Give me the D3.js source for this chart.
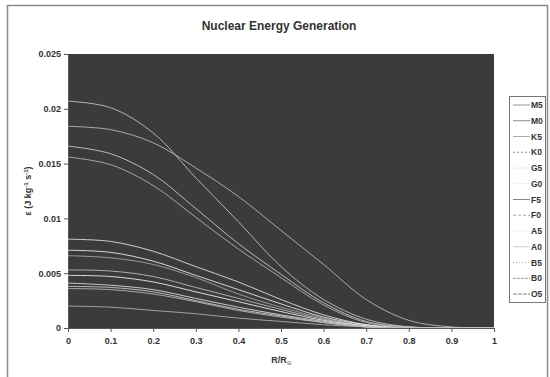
<!DOCTYPE html>
<html>
<head>
<meta charset="utf-8">
<script src="https://cdn.jsdelivr.net/npm/d3@7"></script>
<style>
  body { margin: 0; background: #fff; }
  text { font-family: "Liberation Sans", Arial, sans-serif; font-weight: bold; fill: #333; }
</style>
</head>
<body>
<div id="chart"></div>
<script>
// radius grid (R/R) shared by all series
var radius = [0, 0.1, 0.2, 0.3, 0.4, 0.5, 0.6, 0.7, 0.8, 0.9, 1.0];

var seriesNames = ["M5", "M0", "K5", "K0", "G5", "G0", "F5", "F0", "A5", "A0", "B5", "B0", "O5"];

// energy generation (J kg^-1 s^-1)
var m5 = [0.0207, 0.0201, 0.0178, 0.0137, 0.0097, 0.0056, 0.0026, 0.0008, 0.0001, 0, 0];
var m0 = [0.0184, 0.0181, 0.0169, 0.0146, 0.0120, 0.0089, 0.0058, 0.0026, 0.0007, 0.0001, 0];
var k5 = [0.0166, 0.0159, 0.0140, 0.0109, 0.0077, 0.0049, 0.0023, 0.0006, 0.0001, 0, 0];
var k0 = [0.0156, 0.0149, 0.0130, 0.0101, 0.0072, 0.0046, 0.0021, 0.0005, 0.0001, 0, 0];
var g5 = [0.0081, 0.0079, 0.0070, 0.0056, 0.0042, 0.0026, 0.0012, 0.0003, 0, 0, 0];
var g0 = [0.0071, 0.0069, 0.0061, 0.0048, 0.0035, 0.0022, 0.0010, 0.0003, 0, 0, 0];
var f5 = [0.0066, 0.0064, 0.0058, 0.0046, 0.0031, 0.0019, 0.0009, 0.0002, 0, 0, 0];
var f0 = [0.0053, 0.0052, 0.0047, 0.0037, 0.0027, 0.0017, 0.0008, 0.0002, 0, 0, 0];
var a5 = [0.0048, 0.0047, 0.0042, 0.0033, 0.0024, 0.0015, 0.0007, 0.0002, 0, 0, 0];
var a0 = [0.0041, 0.0039, 0.0035, 0.0027, 0.0019, 0.0012, 0.0006, 0.0001, 0, 0, 0];
var b5 = [0.0038, 0.0037, 0.0033, 0.0025, 0.0017, 0.0011, 0.0005, 0.0001, 0, 0, 0];
var b0 = [0.0036, 0.0035, 0.0031, 0.0024, 0.0016, 0.0010, 0.0005, 0.0001, 0, 0, 0];
var o5 = [0.0020, 0.0019, 0.0016, 0.0013, 0.0009, 0.0006, 0.0003, 0.0001, 0, 0, 0];

var seriesValues = [m5, m0, k5, k0, g5, g0, f5, f0, a5, a0, b5, b0, o5];

var xTicks = [0, 0.1, 0.2, 0.3, 0.4, 0.5, 0.6, 0.7, 0.8, 0.9, 1];
var yTicks = [0, 0.005, 0.01, 0.015, 0.02, 0.025];

// line looks (gray shades, some dashed) per series
var lineColors = ["#c8c8c8", "#bdbdbd", "#d0d0d0", "#b8b8b8", "#e6e6e6", "#f0f0f0", "#a8a8a8",
                  "#c0c0c0", "#f4f4f4", "#e0e0e0", "#cfcfcf", "#bcbcbc", "#b4b4b4"];
var lineDash = [null, null, null, "2,2", null, null, null, "3,2", null, null, "1,2", "3,1", "4,1"];

var W = 550, H = 377;
var plot = {left: 68, right: 494, top: 54, bottom: 328};

var svg = d3.select("#chart")
            .append("svg")
            .attr("width", W)
            .attr("height", H);

// outer chart frame
svg.append("rect")
   .attr("x", 7.5)
   .attr("y", 5.5)
   .attr("width", 540)
   .attr("height", 385)
   .attr("fill", "#fff")
   .attr("stroke", "#8a8a8a")
   .attr("stroke-width", 1.5);

var xScale = d3.scaleLinear()
               .domain([0, 1])
               .range([plot.left, plot.right]);

var yScale = d3.scaleLinear()
               .domain([0, 0.025])
               .range([plot.bottom, plot.top]);

svg.append("clipPath")
   .attr("id", "clip")
   .append("rect")
   .attr("x", plot.left)
   .attr("y", plot.top)
   .attr("width", plot.right - plot.left)
   .attr("height", plot.bottom - plot.top);

// plot background
svg.append("rect")
   .attr("x", plot.left)
   .attr("y", plot.top)
   .attr("width", plot.right - plot.left)
   .attr("height", plot.bottom - plot.top)
   .attr("fill", "#3b3b3b");

//creates the axes
var xAxis = d3.axisBottom(xScale)
              .tickValues(xTicks)
              .tickSize(4)
              .tickFormat(function(d) { return d3.format("~g")(d); });

var yAxis = d3.axisLeft(yScale)
              .tickValues(yTicks)
              .tickSize(4)
              .tickFormat(function(d) { return d3.format("~g")(d); });

var gx = svg.append("g")
            .attr("transform", "translate(0," + plot.bottom + ")")
            .call(xAxis);

var gy = svg.append("g")
            .attr("transform", "translate(" + plot.left + ",0)")
            .call(yAxis);

[gx, gy].forEach(function(g) {
  g.select(".domain").attr("stroke", "#555");
  g.selectAll(".tick line").attr("stroke", "#555");
  g.selectAll(".tick text")
   .attr("fill", "#444")
   .style("font-size", "9px")
   .style("font-family", "'Liberation Sans', Arial, sans-serif")
   .style("font-weight", "bold");
});
gx.selectAll(".tick text").attr("dy", "1.0em");

// lines
var line = d3.line()
             .x(function(d) { return xScale(d[0]); })
             .y(function(d) { return yScale(d[1]); })
             .curve(d3.curveCatmullRom.alpha(0.5));

var lines = svg.append("g").attr("clip-path", "url(#clip)");

seriesValues.forEach(function(vals, i) {
  var pts = radius.map(function(r, j) { return [r, vals[j]]; });
  lines.append("path")
     .datum(pts)
     .attr("d", line)
     .attr("fill", "none")
     .attr("stroke", lineColors[i])
     .attr("stroke-width", 1)
     .attr("stroke-opacity", 0.85);
});

// title
svg.append("text")
   .attr("x", 279)
   .attr("y", 30)
   .attr("text-anchor", "middle")
   .style("font-size", "12px")
   .text("Nuclear Energy Generation");

// axis labels
var xl = svg.append("text")
   .attr("x", (plot.left + plot.right) / 2)
   .attr("y", 363)
   .attr("text-anchor", "middle")
   .style("font-size", "9px")
   .attr("fill", "#555")
   .text("R/R");
xl.append("tspan")
  .attr("dy", 2)
  .style("font-size", "5px")
  .text("☉");

var yl = svg.append("text")
   .attr("transform", "translate(31," + ((plot.top + plot.bottom) / 2) + ") rotate(-90)")
   .attr("text-anchor", "middle")
   .style("font-size", "9px")
   .attr("fill", "#444");
yl.append("tspan").text("ε (J kg");
yl.append("tspan").attr("dy", -3).style("font-size", "6px").text("-1");
yl.append("tspan").attr("dy", 3).text(" s");
yl.append("tspan").attr("dy", -3).style("font-size", "6px").text("-1");
yl.append("tspan").attr("dy", 3).text(")");

// legend
var legend = svg.append("g");
legend.append("rect")
      .attr("x", 509.5)
      .attr("y", 96.5)
      .attr("width", 36)
      .attr("height", 206)
      .attr("fill", "#fff")
      .attr("stroke", "#777")
      .attr("stroke-width", 1);

var legendColors = ["#999", "#888", "#aaa", "#999", "#eee", "#eee", "#888",
                    "#aaa", "#f2f2f2", "#ccc", "#aaa", "#999", "#888"];

seriesNames.forEach(function(name, i) {
  var y = 105 + i * 15.75;
  legend.append("line")
        .attr("x1", 513)
        .attr("x2", 530)
        .attr("y1", y)
        .attr("y2", y)
        .attr("stroke", legendColors[i])
        .attr("stroke-width", 1)
        .attr("stroke-dasharray", lineDash[i]);
  legend.append("text")
        .attr("x", 531)
        .attr("y", y + 3)
        .style("font-size", "8.5px")
        .attr("fill", "#444")
        .text(name);
});
</script>
</body>
</html>
